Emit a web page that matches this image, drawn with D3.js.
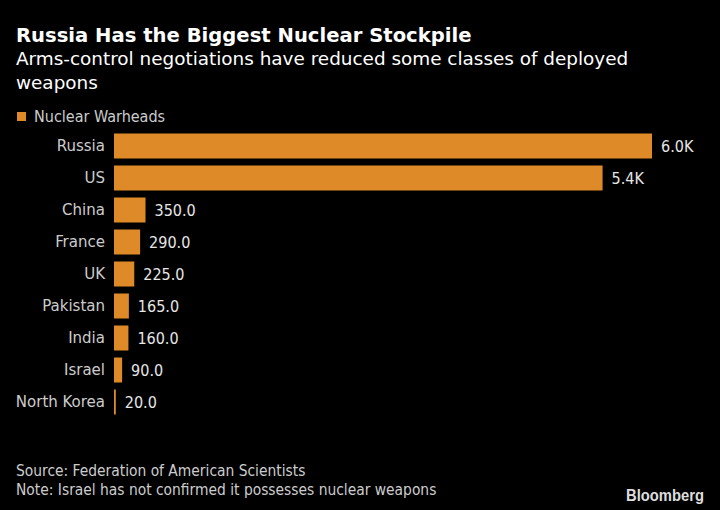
<!DOCTYPE html>
<html><head><meta charset="utf-8">
<script src="https://cdn.jsdelivr.net/npm/d3@7"></script>
<style>
html,body{margin:0;padding:0;background:#000;}
svg{display:block;}
text{font-family:"DejaVu Sans Condensed","Liberation Sans Narrow","Roboto Condensed","DejaVu Sans",sans-serif;font-stretch:condensed;}
</style></head>
<body>
<script>
const categories = ["Russia","US","China","France","UK","Pakistan","India","Israel","North Korea"];
const warheads = [5977,5428,350,290,225,165,160,90,20];
const seriesName = "Nuclear Warheads";
const titleText = "Russia Has the Biggest Nuclear Stockpile";
const subtitleLines = ["Arms-control negotiations have reduced some classes of deployed","weapons"];
const footLines = ["Source: Federation of American Scientists","Note: Israel has not confirmed it possesses nuclear weapons"];

const W=720,H=510;
const svg=d3.select("body").append("svg").attr("width",W).attr("height",H);
svg.append("rect").attr("width",W).attr("height",H).attr("fill","#000");

const barColor="#df8a28";
const x=d3.scaleLinear().domain([0,d3.max(warheads)]).range([114,652]);
const y=d3.scaleBand().domain(categories).range([130,130+9*32]).paddingInner(7/32).paddingOuter(3.5/32);

const wide="'DejaVu Sans',sans-serif";
svg.append("text").attr("x",16).attr("y",42).attr("fill","#fff").attr("font-size",19.6).attr("font-weight","bold")
  .style("font-family",wide).style("font-stretch","normal").text(titleText);
svg.selectAll("text.sub").data(subtitleLines).join("text").attr("class","sub")
  .attr("x",16).attr("y",(d,i)=>64.5+i*24).attr("fill","#fff").attr("font-size",18.4)
  .style("font-family",wide).style("font-stretch","normal").text(d=>d);

svg.append("rect").attr("x",17).attr("y",112).attr("width",9).attr("height",9).attr("fill",barColor);
svg.append("text").attr("x",34).attr("y",122).attr("fill","#ccc").attr("font-size",16).text(seriesName);

const data=categories.map((c,i)=>({c,v:warheads[i]}));
svg.selectAll("rect.bar").data(data).join("rect").attr("class","bar")
  .attr("x",x(0)).attr("y",d=>y(d.c)).attr("width",d=>x(d.v)-x(0)).attr("height",y.bandwidth()).attr("fill",barColor);

const yAxis=d3.axisLeft(y).tickSize(0).tickPadding(9);
const ga=svg.append("g").attr("transform",`translate(${x(0)},0)`).call(yAxis);
ga.select(".domain").remove();
ga.selectAll("text").attr("fill","#ccc").attr("font-size",16.7).attr("font-family",null);

const fmt=v=>v>=1000?d3.format(".1f")(v/1000)+"K":d3.format(".1f")(v);
svg.selectAll("text.val").data(data).join("text").attr("class","val")
  .attr("x",d=>x(d.v)+9).attr("y",d=>y(d.c)+y.bandwidth()/2).attr("dy","0.35em")
  .attr("fill","#e6e6e6").attr("font-size",16).text(d=>fmt(d.v));

svg.selectAll("text.foot").data(footLines).join("text").attr("class","foot")
  .attr("x",16).attr("y",(d,i)=>476+i*19).attr("fill","#ccc").attr("font-size",15.4).text(d=>d);
svg.append("text").attr("x",626).attr("y",501).attr("fill","#ddd")
  .attr("font-size",17).attr("font-weight","bold").style("font-family","'Liberation Sans Narrow','Liberation Sans',sans-serif")
  .attr("textLength",78).attr("lengthAdjust","spacingAndGlyphs").text("Bloomberg");
</script>
</body></html>
